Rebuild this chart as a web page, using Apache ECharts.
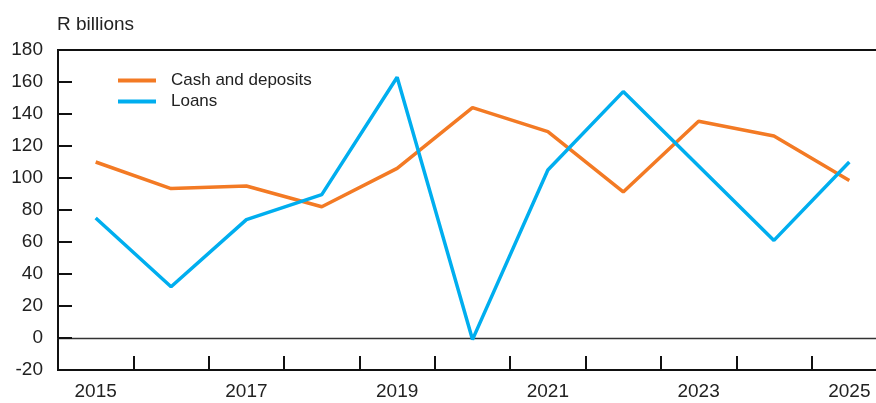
<!DOCTYPE html>
<html>
<head>
<meta charset="utf-8">
<script src="https://cdn.jsdelivr.net/npm/echarts@6/dist/echarts.min.js"></script>
<style>
  html, body { margin: 0; padding: 0; background: #fff; }
  #chart { width: 876px; height: 403px; }
</style>
</head>
<body>
<div id="chart"></div>
<script>
const years = ['2015', '2016', '2017', '2018', '2019', '2020', '2021', '2022', '2023', '2024', '2025']
const cashDeposits = [110, 93.4, 95, 82, 106, 144, 129, 91.3, 135.5, 126.3, 98.5]
const loans = [75, 32, 74, 89.6, 163, -1, 105, 154, 107.5, 61, 110]

const FONT = '"Liberation Sans", Arial, sans-serif'
const TEXT = '#222'
const AXIS = '#111'

const chart = echarts.init(document.getElementById('chart'))
chart.setOption({
  animation: false,
  textStyle: { fontFamily: FONT },
  title: {
    text: 'R billions',
    left: 52,
    top: 10,
    textStyle: { fontFamily: FONT, fontSize: 19, fontWeight: 'normal', color: TEXT },
  },
  legend: {
    orient: 'vertical',
    left: 113,
    top: 67,
    itemWidth: 38,
    itemHeight: 4,
    itemGap: 4,
    icon: 'rect',
    textStyle: { fontFamily: FONT, fontSize: 17, color: TEXT, padding: [0, 0, 0, 10] },
    data: ['Cash and deposits', 'Loans'],
  },
  // plot area runs past the right edge of the canvas, as in the original
  grid: {
    left: 58,
    top: 50,
    width: 829,
    height: 320,
    outerBoundsMode: 'none',
    containLabel: false,
    show: true,
    borderColor: AXIS,
    borderWidth: 2,
  },
  xAxis: [
    {
      type: 'category',
      data: years,
      boundaryGap: true,
      axisLine: { onZero: false, lineStyle: { color: AXIS, width: 2 } },
      axisTick: { show: true, inside: true, length: 14, interval: 0, lineStyle: { color: AXIS, width: 2 } },
      axisLabel: { interval: 1, color: TEXT, fontSize: 19, fontFamily: FONT, margin: 12 },
      splitLine: { show: false },
    },
    {
      // zero line
      type: 'category',
      data: years,
      position: 'bottom',
      axisLine: { onZero: true, lineStyle: { color: '#333', width: 1.3 } },
      axisTick: { show: false },
      axisLabel: { show: false },
      splitLine: { show: false },
    },
  ],
  yAxis: {
    type: 'value',
    min: -20,
    max: 180,
    interval: 20,
    axisLine: { show: true, onZero: false, lineStyle: { color: AXIS, width: 2 } },
    axisTick: { show: true, inside: true, length: 14, lineStyle: { color: AXIS, width: 2 } },
    axisLabel: { color: TEXT, fontSize: 19, fontFamily: FONT, margin: 15 },
    splitLine: { show: false },
  },
  series: [
    {
      name: 'Cash and deposits',
      type: 'line',
      data: cashDeposits,
      symbol: 'none',
      lineStyle: { color: '#F37A24', width: 3.5 },
      itemStyle: { color: '#F37A24' },
      z: 3,
    },
    {
      name: 'Loans',
      type: 'line',
      data: loans,
      symbol: 'none',
      lineStyle: { color: '#00AEEF', width: 3.5 },
      itemStyle: { color: '#00AEEF' },
      z: 4,
    },
  ],
})
</script>
</body>
</html>
